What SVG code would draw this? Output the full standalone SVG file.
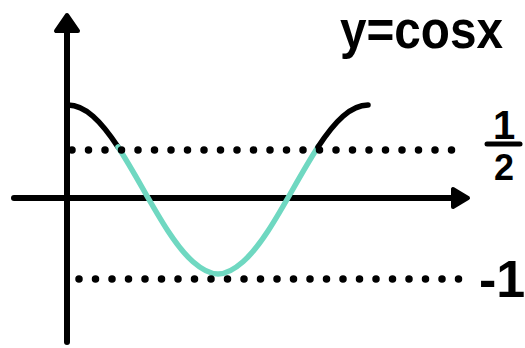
<svg xmlns="http://www.w3.org/2000/svg" width="525" height="348" viewBox="0 0 525 348">
<style>
.ax{stroke:#000;stroke-width:6;stroke-linecap:round;fill:none}
.head{fill:#000;stroke:#000;stroke-width:4;stroke-linejoin:round}
.curve{fill:none;stroke-width:5.5;stroke-linecap:round}
.dots{stroke:#000;stroke-width:7.5;stroke-linecap:round;stroke-dasharray:0 16.5;fill:none}
.lbl{font-family:"Liberation Sans",Arial,sans-serif;font-weight:bold;fill:#000}
</style>
<rect width="525" height="348" fill="#fff"/>
<g id="axes">
<line class="ax" x1="67" y1="30" x2="67" y2="342"/>
<polygon class="head" points="67,15 56,31 78,31"/>
<line class="ax" x1="14" y1="198" x2="456" y2="198"/>
<polygon class="head" points="468,198 453,189 453,207"/>
</g>
<g id="curve">
<path class="curve" stroke="#000" d="M68,105 C76.33,105 84.67,108.92 93,116.25 C101.33,123.58 109.67,134.30 118,147"/>
<path class="curve" stroke="#6fd8c1" stroke-width="6" d="M118,147 C126.33,159.70 134.67,174.34 143,189 C151.33,203.66 159.67,218.30 168,231 C176.33,243.70 184.67,254.42 193,261.75 C201.33,269.08 209.67,274 218,274 C226.33,274 234.67,269.08 243,261.75 C251.33,254.42 259.67,243.70 268,231 C276.33,218.30 284.67,203.66 293,189 C301.33,174.34 309.67,159.70 318,147"/>
<path class="curve" stroke="#000" d="M318,147 C326.33,134.30 334.67,123.58 343,116.25 C351.33,108.92 359.67,105 368,105"/>
</g>
<g id="dotted-lines">
<line class="dots" x1="72" y1="150" x2="453" y2="150"/>
<line class="dots" x1="79" y1="279" x2="460" y2="279"/>
</g>
<g id="labels">
<text class="lbl" x="340" y="48" font-size="54" textLength="163" lengthAdjust="spacingAndGlyphs">y=cosx</text>
<text class="lbl" x="504" y="139" font-size="40" text-anchor="middle">1</text>
<line x1="487" y1="144" x2="520" y2="144" stroke="#000" stroke-width="5" stroke-linecap="round"/>
<text class="lbl" x="504" y="180" font-size="36" text-anchor="middle">2</text>
<text class="lbl" x="479" y="297" font-size="52">-1</text>
</g>
</svg>
